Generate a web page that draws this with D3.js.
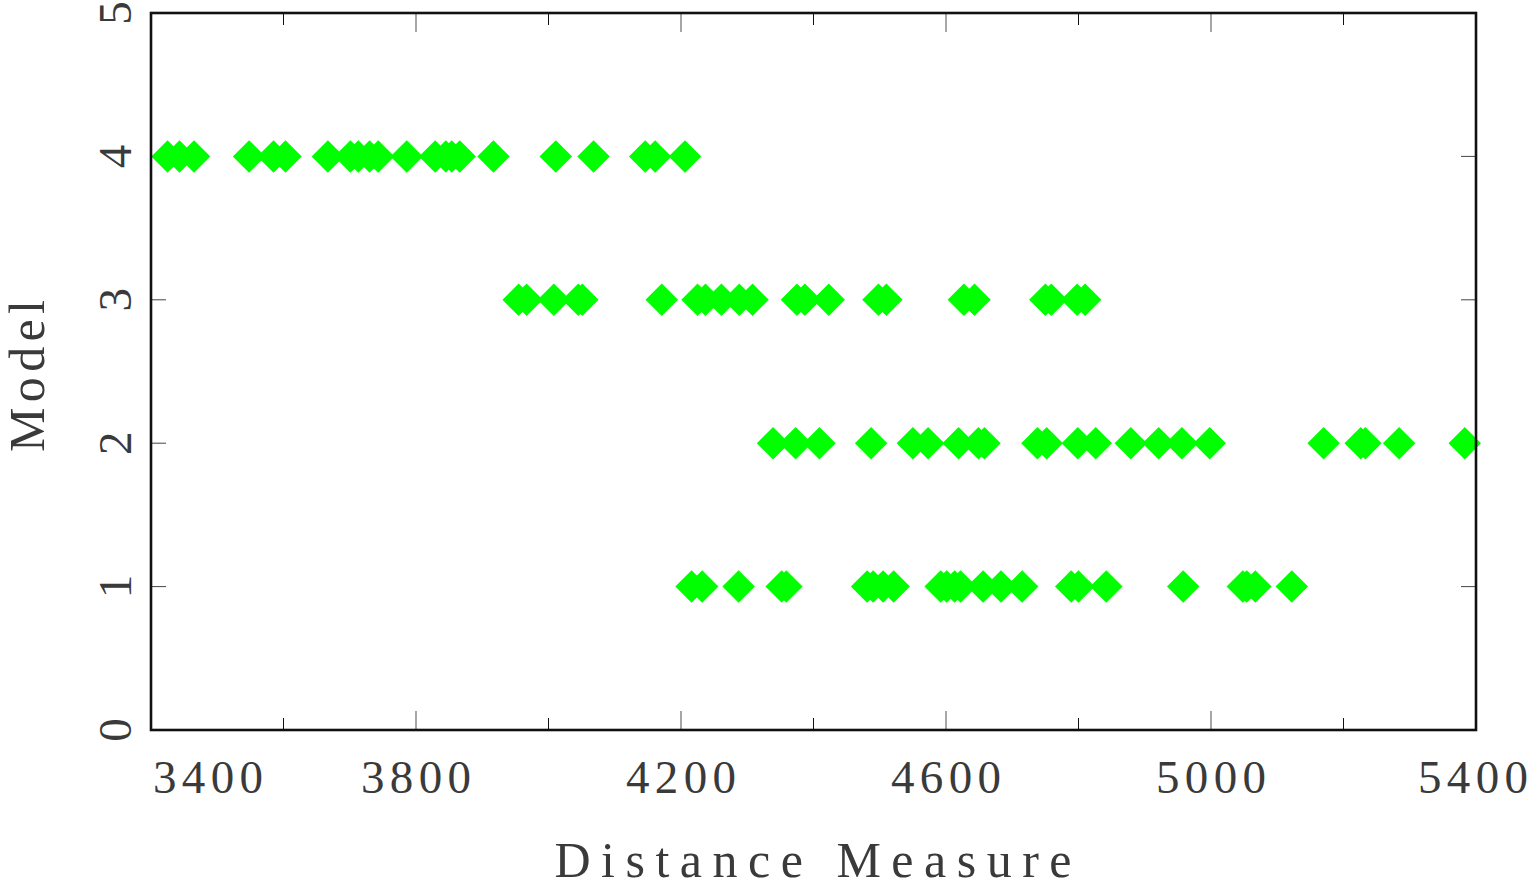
<!DOCTYPE html>
<html>
<head>
<meta charset="utf-8">
<script src="https://cdn.jsdelivr.net/npm/d3@7"></script>
<style>
  html, body { margin: 0; padding: 0; background: #fff; }
  svg { display: block; }
  text { font-family: "Liberation Serif", "DejaVu Serif", serif; fill: #3a3a3a; }
</style>
</head>
<body>
<svg id="chart" width="1532" height="890"></svg>
<script>
// Distance measure observations for each model
const model4 = [3425, 3443, 3465, 3548, 3585, 3603, 3667, 3701, 3713, 3730, 3743, 3786,
                3829, 3845, 3854, 3866, 3917, 4011, 4068, 4146, 4161, 4206];
const model3 = [3955, 3967, 4008, 4045, 4051, 4171, 4225, 4237, 4261, 4288, 4308, 4375,
                4387, 4423, 4498, 4510, 4627, 4643, 4750, 4759, 4798, 4810];
const model2 = [4339, 4373, 4409, 4487, 4550, 4573, 4619, 4649, 4658, 4738, 4752, 4799,
                4826, 4879, 4921, 4956, 4998, 5170, 5226, 5233, 5284, 5383];
const model1 = [4216, 4232, 4287, 4352, 4359, 4481, 4490, 4505, 4521, 4592, 4601, 4613,
                4622, 4656, 4683, 4715, 4789, 4800, 4842, 4958, 5048, 5054, 5067, 5122];

const xMajorTicks = [3400, 3800, 4200, 4600, 5000, 5400];
const xMinorTicks = [3600, 4000, 4400, 4800, 5200];
const yTicks = [0, 1, 2, 3, 4, 5];
const xTitle = "Distance Measure";
const yTitle = "Model";

(function () {
  const svg = d3.select("#chart");
  const pLeft = 151, pRight = 1476, pTop = 13, pBottom = 730;

  const x = d3.scaleLinear().domain([3400, 5400]).range([pLeft, pRight]);
  const y = d3.scaleLinear().domain([0, 5]).range([pBottom, pTop]);

  const points = [
    ...model4.map(v => ({ v, m: 4 })),
    ...model3.map(v => ({ v, m: 3 })),
    ...model2.map(v => ({ v, m: 2 })),
    ...model1.map(v => ({ v, m: 1 }))
  ];

  // Tick marks on all four sides, pointing into the plot
  const g = svg.append("g");
  const tickLines = (vals, len, color, width) => {
    vals.forEach(v => {
      g.append("line").attr("x1", x(v)).attr("x2", x(v))
        .attr("y1", pBottom).attr("y2", pBottom - len)
        .attr("stroke", color).attr("stroke-width", width);
      g.append("line").attr("x1", x(v)).attr("x2", x(v))
        .attr("y1", pTop).attr("y2", pTop + len)
        .attr("stroke", color).attr("stroke-width", width);
    });
  };
  tickLines(xMajorTicks, 19, "#777", 1.3);
  tickLines(xMinorTicks, 12, "#111", 1);

  yTicks.filter(t => t > 0 && t < 5).forEach(t => {
    g.append("line").attr("x1", pLeft).attr("x2", pLeft + 15)
      .attr("y1", y(t)).attr("y2", y(t)).attr("stroke", "#444").attr("stroke-width", 1);
    g.append("line").attr("x1", pRight).attr("x2", pRight - 15)
      .attr("y1", y(t)).attr("y2", y(t)).attr("stroke", "#444").attr("stroke-width", 1);
  });

  // Diamond markers
  const diamond = d3.symbol().type(d3.symbolSquare).size(23 * 23);
  svg.append("g").selectAll("path")
    .data(points)
    .join("path")
    .attr("d", diamond)
    .attr("transform", d => `translate(${x(d.v)},${y(d.m)}) rotate(45)`)
    .attr("fill", "#00ff00");

  // Frame
  svg.append("rect")
    .attr("x", pLeft).attr("y", pTop)
    .attr("width", pRight - pLeft).attr("height", pBottom - pTop)
    .attr("fill", "none").attr("stroke", "#111").attr("stroke-width", 2.6);

  // X tick labels
  const last = xMajorTicks.length - 1;
  svg.append("g").selectAll("text")
    .data(xMajorTicks)
    .join("text")
    .attr("x", (d, i) => i === 0 ? pLeft + 2 : (i === last ? 1528 : x(d)))
    .attr("y", 793)
    .attr("text-anchor", (d, i) => i === 0 ? "start" : (i === last ? "end" : "middle"))
    .attr("font-size", 47)
    .attr("textLength", 110)
    .attr("lengthAdjust", "spacing")
    .text(d => d);

  // Y tick labels (rotated)
  svg.append("g").selectAll("text")
    .data(yTicks)
    .join("text")
    .attr("transform", d => `translate(131,${y(d)}) rotate(-90)`)
    .attr("text-anchor", "middle")
    .attr("font-size", 47)
    .text(d => d);

  // Axis titles
  svg.append("text")
    .attr("x", 813).attr("y", 877)
    .attr("text-anchor", "middle")
    .attr("font-size", 50)
    .attr("textLength", 517)
    .attr("lengthAdjust", "spacing")
    .text(xTitle);

  svg.append("text")
    .attr("transform", "translate(44,376) rotate(-90)")
    .attr("text-anchor", "middle")
    .attr("font-size", 50)
    .attr("textLength", 152)
    .attr("lengthAdjust", "spacing")
    .text(yTitle);
})();
</script>
</body>
</html>
